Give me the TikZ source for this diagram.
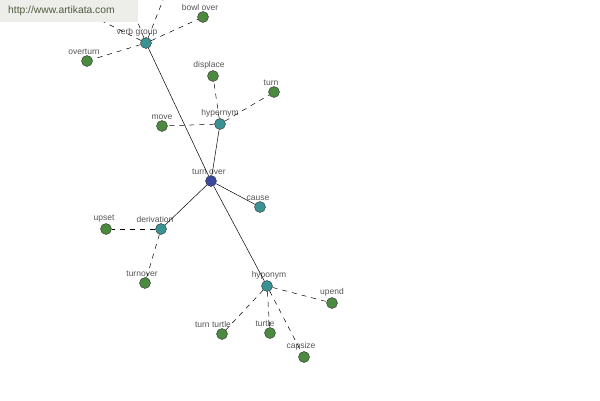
\documentclass[tikz,border=0pt]{standalone}
\usepackage{fontspec}
\setmainfont{Liberation Sans}
\usetikzlibrary{positioning}
\definecolor{leaf}{HTML}{4C8A3F}
\definecolor{rel}{HTML}{3B9292}
\definecolor{root}{HTML}{3A48A0}
\definecolor{ink}{HTML}{555555}
\definecolor{wmark}{HTML}{4E5E3E}
\definecolor{wbox}{HTML}{EDEDEA}
\begin{document}
\begin{tikzpicture}[x=1pt,y=-1pt,
  dot/.style={circle,draw=black!80,line width=0.4pt,minimum size=11pt,inner sep=0pt},
  leafdot/.style={dot,fill=leaf},
  reldot/.style={dot,fill=rel},
  rootdot/.style={dot,fill=root},
  lbl/.style={font=\fontsize{8.5}{9}\selectfont,text=ink,inner sep=0pt},
  tie/.style={line width=0.5pt,black},
  link/.style={line width=0.5pt,black,dash pattern=on 5pt off 5pt}]
\useasboundingbox (0,0) rectangle (600,400);
\begin{scope}
\clip (0,0) rectangle (600,400);
% relation nodes
\node[rootdot,label={[lbl,label distance=1pt,xshift=-2pt]above:turn over}] (turnover) at (211,181) {};
\node[reldot,label={[lbl,label distance=1pt,xshift=-9pt]above:verb group}] (vgroup) at (146,43) {};
\node[reldot,label={[lbl,label distance=1pt]above:hypernym}] (hypernym) at (220,124) {};
\node[reldot,label={[lbl,label distance=1pt,xshift=-2pt]above:cause}] (cause) at (260,207) {};
\node[reldot,label={[lbl,label distance=1pt,xshift=-6pt]above:derivation}] (deriv) at (161,229) {};
\node[reldot,label={[lbl,label distance=1pt,xshift=2pt]above:hyponym}] (hyponym) at (267,286) {};
% leaves
\node[leafdot,label={[lbl,label distance=1pt,xshift=-3pt]above:bowl over}] (bowlover) at (203,17) {};
\node[leafdot,label={[lbl,label distance=1pt,xshift=-3pt]above:overturn}] (overturn) at (87,61) {};
\coordinate (vgtop) at (167,-10);
\coordinate (vgupleft) at (125,-10);
\coordinate (vgleft) at (40,-10);
\node[leafdot,label={[lbl,label distance=1pt,xshift=-4pt]above:displace}] (displace) at (213,76) {};
\node[leafdot,label={[lbl,label distance=1pt,xshift=-3pt]above:turn}] (turn) at (274,92) {};
\node[leafdot,label={[lbl,label distance=1pt]above:move}] (move) at (162,126) {};
\node[leafdot,label={[lbl,label distance=1pt,xshift=-2pt]above:upset}] (upset) at (106,229) {};
\node[leafdot,label={[lbl,label distance=1pt,xshift=-3pt]above:turnover}] (turnoverN) at (145,283) {};
\node[leafdot,label={[lbl,label distance=1pt]above:upend}] (upend) at (332,303) {};
\node[leafdot,label={[lbl,label distance=1pt,xshift=-9pt]above:turn turtle}] (turnturtle) at (222,334) {};
\node[leafdot,label={[lbl,label distance=1pt,xshift=-5pt]above:turtle}] (turtle) at (270,333) {};
\node[leafdot,label={[lbl,label distance=1pt,xshift=-3pt]above:capsize}] (capsize) at (304,357) {};
% solid links from the root
\foreach \r in {vgroup,hypernym,cause,deriv,hyponym}
  \draw[tie] (turnover) -- (\r);
% dashed links to the leaves
\draw[link] (vgroup) -- (bowlover);
\draw[link] (vgroup) -- (overturn);
\draw[link] (vgroup) -- (vgtop);
\draw[link] (vgroup) -- (vgupleft);
\draw[link] (vgroup) -- (vgleft);
\draw[link] (hypernym) -- (displace);
\draw[link] (hypernym) -- (turn);
\draw[link] (hypernym) -- (move);
\draw[link] (deriv) -- (upset);
\draw[link] (deriv) -- (turnoverN);
\draw[link] (hyponym) -- (upend);
\draw[link] (hyponym) -- (turnturtle);
\draw[link] (hyponym) -- (turtle);
\draw[link] (hyponym) -- (capsize);
% watermark
\fill[wbox] (0,0) rectangle (138,22);
\node[font=\fontsize{10.3}{12}\selectfont,text=wmark,anchor=west,inner sep=0pt] (site) at (8,11) {http://www.artikata.com};
\end{scope}
\end{tikzpicture}
\end{document}
